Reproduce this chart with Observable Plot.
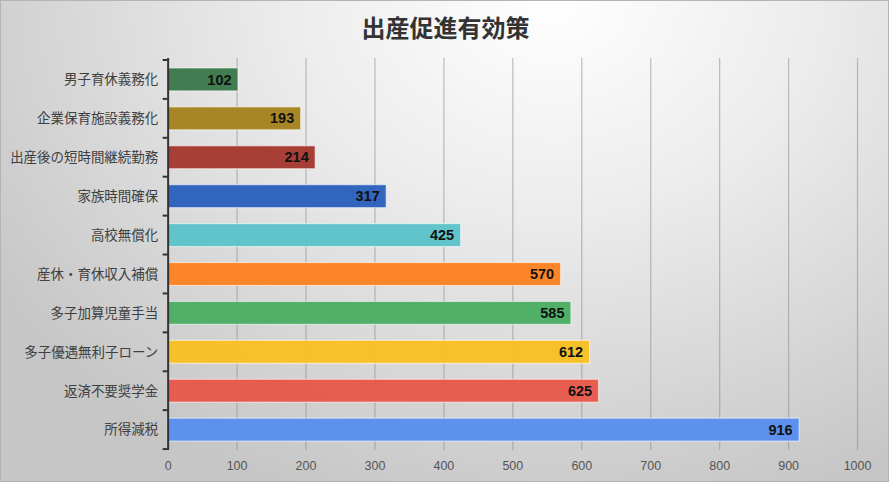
<!DOCTYPE html>
<html><head><meta charset="utf-8">
<script src="https://cdn.jsdelivr.net/npm/d3@7"></script>
<script src="https://cdn.jsdelivr.net/npm/@observablehq/plot@0.6"></script>
<style>
html,body{margin:0;padding:0;}
#wrap{width:889px;height:482px;box-sizing:border-box;border:1px solid #b4b4b4;
 background:radial-gradient(ellipse 75% 110% at 62% 0%, #ffffff 0%, #ececec 40%, #d6d6d6 75%, #c6c6c6 100%);
 font-family:"Noto Sans CJK JP","Noto Sans",sans-serif;overflow:hidden;}
#title{height:49px;line-height:52px;text-align:center;font-size:24px;font-weight:700;color:#333;padding-left:2px;}
</style></head><body>
<div id="wrap"><div id="title">出産促進有効策</div><div id="chart"></div></div>
<script>
const categories = ["男子育休義務化","企業保育施設義務化","出産後の短時間継続勤務","家族時間確保","高校無償化","産休・育休収入補償","多子加算児童手当","多子優遇無利子ローン","返済不要奨学金","所得減税"];
const values = [102,193,214,317,425,570,585,612,625,916];
const colors = ["#3a794a","#a6821e","#a6382f","#2b60bc","#5cc3ca","#fc8120","#4aae63","#f9c022","#e7584b","#5a8fee"];
const xTicks = [0,100,200,300,400,500,600,700,800,900,1000];

const data = categories.map((c,i)=>({name:c, value:values[i], color:colors[i]}));

const boundaryTicks = (index, scales, values_, dims) => {
  const y = scales.y;
  const bw = typeof y.bandwidth === "function" ? y.bandwidth() : y.bandwidth;
  const step = y(categories[1]) - y(categories[0]);
  const off = (step - bw)/2;
  const x0 = scales.x(0);
  const g = d3.create("svg:g");
  for (let i = 0; i <= categories.length; i++) {
    const yy = (i < categories.length ? y(categories[i]) : y(categories[i-1]) + step) - off;
    g.append("line").attr("x1", x0 - 5).attr("x2", x0).attr("y1", yy).attr("y2", yy)
      .attr("stroke", "#333").attr("stroke-width", 2);
  }
  return g.node();
};

const chart = Plot.plot({
  width: 889,
  height: 431,
  marginTop: 8,
  marginBottom: 30,
  marginLeft: 167,
  marginRight: 31,
  style: {background: "transparent", fontFamily: "'Noto Sans CJK JP','Noto Sans',sans-serif"},
  x: {domain: [0, 1000], ticks: xTicks, label: null},
  y: {domain: categories, paddingInner: 0.42, paddingOuter: 0.21, label: null},
  marks: [
    Plot.gridX(xTicks.slice(1), {stroke: "#8a8a8a", strokeOpacity: 0.55, strokeWidth: 1.2}),
    Plot.barX(data, {x: "value", y: "name", fill: "color", fillOpacity: 0.96, stroke: "#ffffff", strokeOpacity: 0.55, strokeWidth: 1.2}),
    Plot.text(data, {x: "value", y: "name", text: d => String(d.value), dx: -7, textAnchor: "end",
      fontSize: 14.5, fontWeight: "bold", fill: "#111", fontFamily: "'Liberation Sans',Arial,sans-serif"}),
    Plot.ruleX([0], {stroke: "#333", strokeWidth: 2}),
    boundaryTicks,
    Plot.axisY({tickSize: 0, tickPadding: 10, fontSize: 13.5, color: "#404040", label: null}),
    Plot.axisX({ticks: xTicks, tickFormat: d => String(d), tickSize: 0, tickPadding: 11, fontSize: 12.5, color: "#555", label: null, fontFamily: "'Liberation Sans',Arial,sans-serif"})
  ]
});
document.getElementById("chart").appendChild(chart);
</script>
</body></html>
